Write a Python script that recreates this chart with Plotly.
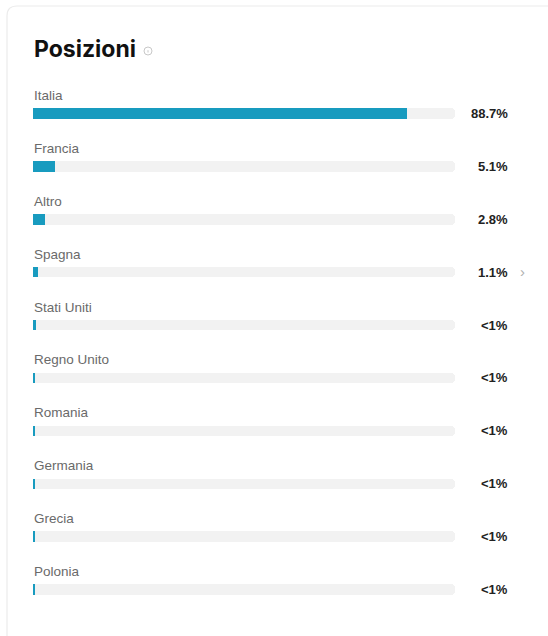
import plotly.graph_objects as go

# Share of positions by country
countries = ["Italia", "Francia", "Altro", "Spagna", "Stati Uniti",
             "Regno Unito", "Romania", "Germania", "Grecia", "Polonia"]
shares = [88.7, 5.1, 2.8, 1.1, 0.6, 0.4, 0.4, 0.3, 0.25, 0.25]
share_labels = ["88.7%", "5.1%", "2.8%", "1.1%", "<1%",
                "<1%", "<1%", "<1%", "<1%", "<1%"]

W_FIG, H_FIG = 548, 636
L, R, T, B = 33, 93, 87, 20
PW, PH = W_FIG - L - R, H_FIG - T - B

BAR_COLOR = "#189bbf"
TRACK_COLOR = "#f2f2f2"
FONT = "Liberation Sans, Arial, sans-serif"


def px_x(px):
    return (px - L) / PW


def px_y(py):
    return 1 - (py - T) / PH


rows = list(range(len(countries)))
bar_w = 10.5 / (PH / len(countries))

fig = go.Figure()
fig.add_trace(go.Bar(
    x=[100] * len(countries), y=rows, orientation="h",
    marker=dict(color=TRACK_COLOR, cornerradius=4, line=dict(width=0)),
    width=bar_w, hoverinfo="skip", showlegend=False,
))
fig.add_trace(go.Bar(
    x=shares, y=rows, orientation="h",
    marker=dict(color=BAR_COLOR, cornerradius=3, line=dict(width=0)),
    width=bar_w, hoverinfo="skip", showlegend=False,
))

annotations = []
for i, (name, lab) in enumerate(zip(countries, share_labels)):
    annotations.append(dict(
        x=0, y=i, xref="x", yref="y", text=name, showarrow=False,
        xanchor="left", yanchor="middle", yshift=18, xshift=-1,
        font=dict(family=FONT, size=13.5, color="#6a6a6a"),
    ))
    annotations.append(dict(
        x=px_x(510), y=i, xref="paper", yref="y", text=f"<b>{lab}</b>",
        showarrow=False, xanchor="right", yanchor="middle", yshift=0,
        font=dict(family=FONT, size=13, color="#222222"),
    ))

# chevron next to the fourth row
annotations.append(dict(
    x=px_x(522), y=3, xref="paper", yref="y", text="›", showarrow=False,
    xanchor="center", yanchor="middle", yshift=1,
    font=dict(family=FONT, size=15, color="#b0b0b0"),
))

# title and info icon
annotations.append(dict(
    x=px_x(32), y=px_y(49), xref="paper", yref="paper", text="<b>Posizioni</b>",
    showarrow=False, xanchor="left", yanchor="middle",
    font=dict(family="Inter, Liberation Sans, sans-serif", size=23, color="#111111"),
))

shapes = [
    # card outline with a rounded top-left corner
    dict(type="path", xref="paper", yref="paper",
         path=(f"M {px_x(7)},{px_y(700)} L {px_x(7)},{px_y(16)} "
               f"Q {px_x(7)},{px_y(6)} {px_x(17)},{px_y(6)} L {px_x(600)},{px_y(6)}"),
         line=dict(color="#ececec", width=1.2), layer="below"),
    # info icon ring
    dict(type="circle", xref="paper", yref="paper",
         x0=px_x(144), x1=px_x(152), y0=px_y(55), y1=px_y(47),
         line=dict(color="#c8c8c8", width=1)),
    dict(type="line", xref="paper", yref="paper",
         x0=px_x(148), x1=px_x(148), y0=px_y(52.5), y1=px_y(50.2),
         line=dict(color="#c8c8c8", width=1)),
]

fig.update_layout(
    width=W_FIG, height=H_FIG,
    margin=dict(l=L, r=R, t=T, b=B),
    paper_bgcolor="white", plot_bgcolor="white",
    barmode="overlay", bargap=0,
    xaxis=dict(range=[0, 100], visible=False, fixedrange=True),
    yaxis=dict(range=[len(countries) - 0.5, -0.5], visible=False, fixedrange=True),
    annotations=annotations, shapes=shapes,
    showlegend=False,
)

fig.write_html("out.html", config={"displayModeBar": False})
